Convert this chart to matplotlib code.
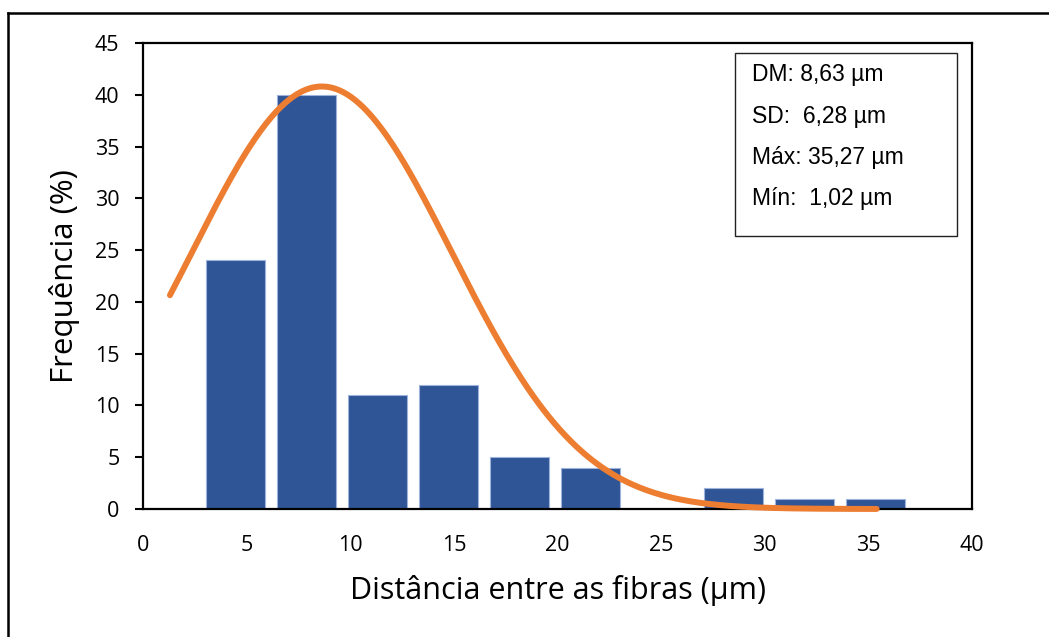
import numpy as np
import matplotlib
matplotlib.use("Agg")
import matplotlib.pyplot as plt
from matplotlib.lines import Line2D
from matplotlib.patches import Rectangle

# Histogram of inter-fibre distances (bin centres in µm, frequency in %)
bin_centers = [4.46, 7.89, 11.32, 14.75, 18.18, 21.61, 25.04, 28.47, 31.90, 35.33]
frequencies = [24, 40, 11, 12, 5, 4, 0, 2, 1, 1]

# Summary statistics of the distribution
dm = 8.63
sd = 6.28
d_max = 35.27
d_min = 1.02
curve_peak = 40.8
curve_start = 1.3
curve_end = 35.4

stats_lines = ["DM: 8,63 µm", "SD:  6,28 µm", "Máx: 35,27 µm", "Mín:  1,02 µm"]
x_ticks = [0, 5, 10, 15, 20, 25, 30, 35, 40]
y_ticks = [0, 5, 10, 15, 20, 25, 30, 35, 40, 45]

W, H = 1049, 637
fig = plt.figure(figsize=(W / 100, H / 100), dpi=100)
fig.patch.set_facecolor("white")


def fx(px):
    return px / W


def fy(py):
    return 1 - py / H


ax = fig.add_axes([fx(143), fy(509), fx(972) - fx(143), fy(43) - fy(509)])

ax.bar(bin_centers, frequencies, width=2.85, color="#2F5597",
       edgecolor="#9DB3DB", linewidth=0.8, zorder=2)

# Normal curve built from the mean and standard deviation
xs = np.linspace(curve_start, curve_end, 400)
ys = curve_peak * np.exp(-((xs - dm) ** 2) / (2 * sd ** 2))
ax.plot(xs, ys, color="#ED7D31", linewidth=4.3, solid_capstyle="round",
        zorder=3, clip_on=False)

ax.set_xlim(0, 40)
ax.set_ylim(0, 45)
ax.set_xticks(x_ticks)
ax.set_yticks(y_ticks)

tick_font = "Open Sans"
for lbl in ax.get_xticklabels() + ax.get_yticklabels():
    lbl.set_fontfamily(tick_font)
    lbl.set_fontsize(15.5)

ax.tick_params(axis="y", direction="out", length=6, width=1.5, pad=11)
ax.tick_params(axis="x", length=0, pad=19)
for sp in ax.spines.values():
    sp.set_linewidth(1.6)
    sp.set_color("black")

fig.text(fx(558), fy(591), "Distância entre as fibras (µm)", ha="center",
         va="center", fontsize=22, family=tick_font)
fig.text(fx(65), fy(276), "Frequência (%)", ha="center", va="center",
         rotation=90, fontsize=22.5, family=tick_font)

# Statistics box
fig.add_artist(Rectangle((fx(735), fy(236)), fx(957) - fx(735), fy(53) - fy(236),
                         transform=fig.transFigure, facecolor="white",
                         edgecolor="#222222", linewidth=1.0, zorder=5))
for i, line in enumerate(stats_lines):
    fig.text(fx(752), fy(75 + 41.3 * i), line, ha="left", va="center",
             fontsize=16.5, family="Liberation Sans", zorder=6)

# Outer frame (left and top edges)
fig.add_artist(Line2D([fx(8), fx(8)], [fy(13), 0], transform=fig.transFigure,
                      color="black", linewidth=1.8))
fig.add_artist(Line2D([fx(8), 1], [fy(13), fy(13)], transform=fig.transFigure,
                      color="black", linewidth=1.8))

fig.savefig("out.png", dpi=100)
